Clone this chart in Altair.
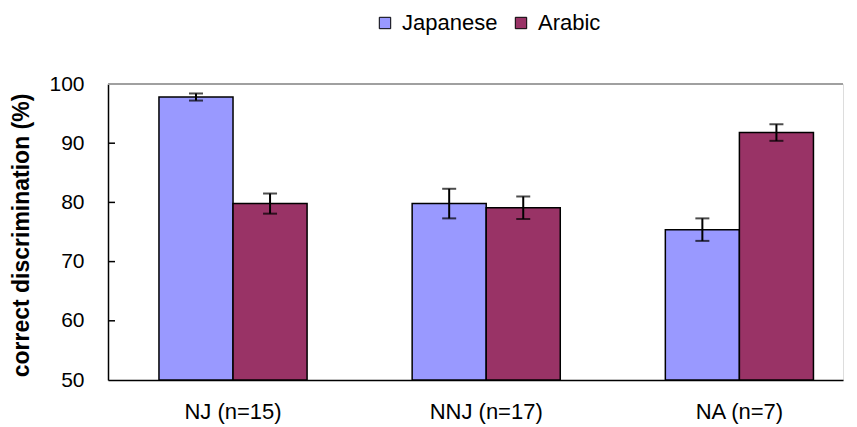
import altair as alt
import pandas as pd

groups = ["NJ (n=15)", "NNJ (n=17)", "NA (n=7)"]
series = ["Japanese", "Arabic"]
japanese = [97.8, 79.8, 75.4]
arabic = [79.8, 79.1, 91.8]
japanese_err = [0.6, 2.5, 1.9]
arabic_err = [1.7, 1.9, 1.4]
colors = ["#9999FF", "#993366"]
y_ticks = [50, 60, 70, 80, 90, 100]

rows = []
for i, g in enumerate(groups):
    rows.append({"group": g, "series": "Japanese", "value": japanese[i], "err": japanese_err[i]})
    rows.append({"group": g, "series": "Arabic", "value": arabic[i], "err": arabic_err[i]})
df = pd.DataFrame(rows)
df["lo"] = df["value"] - df["err"]
df["hi"] = df["value"] + df["err"]

W, H = 735, 296
FONT = "Liberation Sans"

xscale = alt.Scale(domain=groups, paddingInner=0.415, paddingOuter=0.159, align=0.633)
xoff = alt.XOffset("series:N", scale=alt.Scale(domain=series, paddingInner=0, paddingOuter=0))
yscale = alt.Scale(domain=[50, 100], nice=False, zero=False)

base = alt.Chart(df)

bars = base.mark_bar(stroke="black", strokeWidth=1.5).encode(
    x=alt.X("group:N", scale=xscale, sort=groups,
            axis=alt.Axis(title=None, labelAngle=0, ticks=False, tickSize=0, labelPadding=21,
                          labelFontSize=22, labelFont=FONT, labelColor="black",
                          domainColor="black", domainWidth=1.5)),
    xOffset=xoff,
    y=alt.Y("value:Q", scale=yscale,
            axis=alt.Axis(title="correct discrimination (%)", values=y_ticks, grid=False,
                          ticks=False, tickSize=0, labelPadding=24, labelFontSize=21,
                          labelFont=FONT, labelColor="black", domainColor="black",
                          domainWidth=1.5, titleFont=FONT, titleFontSize=23,
                          titleFontWeight="bold", titleColor="black", titleX=-75,
                          titleY=151, titleAngle=270, titleAlign="center",
                          titleBaseline="bottom")),
    y2=alt.datum(50),
    color=alt.Color("series:N", scale=alt.Scale(domain=series, range=colors),
                    legend=alt.Legend(title=None, orient="none", direction="horizontal",
                                      legendX=266, legendY=-72, symbolType="square",
                                      symbolSize=130, symbolStrokeColor="black",
                                      symbolStrokeWidth=1, symbolOpacity=1,
                                      labelFontSize=22, labelFont=FONT, labelColor="black",
                                      labelOffset=6, columnPadding=12, padding=0)),
)

err_rule = base.mark_rule(color="black", strokeWidth=2).encode(
    x=alt.X("group:N", scale=xscale, sort=groups),
    xOffset=xoff,
    y=alt.Y("lo:Q", scale=yscale),
    y2="hi:Q",
)
cap_lo = base.mark_tick(color="black", thickness=2, size=14, orient="horizontal").encode(
    x=alt.X("group:N", scale=xscale, sort=groups),
    xOffset=xoff,
    y=alt.Y("lo:Q", scale=yscale),
)
cap_hi = base.mark_tick(color="black", thickness=2, size=14, orient="horizontal").encode(
    x=alt.X("group:N", scale=xscale, sort=groups),
    xOffset=xoff,
    y=alt.Y("hi:Q", scale=yscale),
)

tick_df = pd.DataFrame({"t": y_ticks[1:-1]})
inner_ticks = alt.Chart(tick_df).mark_rule(color="black", strokeWidth=1.5).encode(
    y=alt.Y("t:Q", scale=yscale),
    x=alt.value(0), x2=alt.value(7),
)
top_df = pd.DataFrame({"t": [100]})
top_line = alt.Chart(top_df).mark_rule(color="#A0A0A0", strokeWidth=2).encode(
    y=alt.Y("t:Q", scale=yscale),
    x=alt.value(0), x2=alt.value(W),
)

chart = alt.layer(top_line, bars, err_rule, cap_lo, cap_hi, inner_ticks).properties(
    width=W, height=H,
    autosize=alt.AutoSizeParams(type="none"),
    padding={"left": 100, "top": 76, "right": 5, "bottom": 46},
).configure_view(stroke=None).configure(background="white")

chart.save("out.html", embed_options={"renderer": "svg", "actions": False})
